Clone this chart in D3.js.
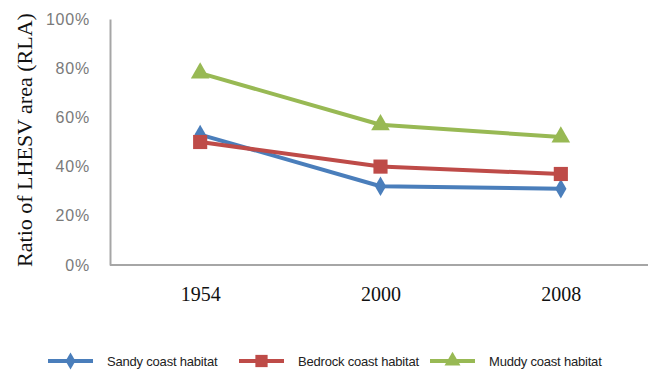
<!DOCTYPE html>
<html>
<head>
<meta charset="utf-8">
<script src="https://cdn.jsdelivr.net/npm/d3@7"></script>
<style>
  html, body { margin: 0; padding: 0; background: #fff; }
  svg { display: block; }
</style>
</head>
<body>
<svg id="chart" width="648" height="371"></svg>
<script>
// Years on the category axis
const years = ["1954", "2000", "2008"];
// Ratio of LHESV area per habitat type
const sandy = [0.53, 0.32, 0.31];
const bedrock = [0.50, 0.40, 0.37];
const muddy = [0.78, 0.57, 0.52];
const seriesNames = ["Sandy coast habitat", "Bedrock coast habitat", "Muddy coast habitat"];
const yTicks = [0, 0.2, 0.4, 0.6, 0.8, 1.0];

const series = [
  { name: seriesNames[0], values: sandy, color: "#4a7ebb", symbol: d3.symbolDiamond, size: 110, legendSize: 85 },
  { name: seriesNames[1], values: bedrock, color: "#be4b48", symbol: d3.symbolSquare, size: 200, legendSize: 150 },
  { name: seriesNames[2], values: muddy, color: "#98b954", symbol: d3.symbolTriangle, size: 150, legendSize: 110 }
];

const svg = d3.select("#chart");
const plotLeft = 110, plotRight = 651, plotTop = 19, plotBottom = 265;

const x = d3.scalePoint().domain(years).range([plotLeft, plotRight]).padding(0.5);
const y = d3.scaleLinear().domain([0, 1]).range([plotBottom, plotTop]);

// Axes: value axis on the left, category axis along the bottom
const yAxis = svg.append("g")
  .attr("transform", `translate(${plotLeft},0)`)
  .call(d3.axisLeft(y).tickValues(yTicks).tickFormat(d3.format(".0%")).tickSize(0).tickPadding(20));
yAxis.select(".domain").attr("stroke", "#a6a6a6").attr("stroke-width", 2);
yAxis.selectAll("text")
  .attr("font-family", "Liberation Sans, Arial, sans-serif")
  .attr("font-size", 16)
  .attr("letter-spacing", 0.8)
  .attr("fill", "#7a7a7a");

const xAxis = svg.append("g")
  .attr("transform", `translate(0,${plotBottom})`)
  .call(d3.axisBottom(x).tickSize(0).tickPadding(22));
xAxis.select(".domain").attr("d", `M${plotLeft},0H648`).attr("stroke", "#a6a6a6").attr("stroke-width", 2);
xAxis.selectAll("text")
  .attr("font-family", "Liberation Serif, Times New Roman, serif")
  .attr("font-size", 20)
  .attr("fill", "#111");

// Y axis title
svg.append("text")
  .attr("transform", `translate(32,140) rotate(-90)`)
  .attr("text-anchor", "middle")
  .attr("font-family", "Liberation Serif, Times New Roman, serif")
  .attr("font-size", 22)
  .attr("fill", "#111")
  .text("Ratio of LHESV area (RLA)");

// Lines and markers
const line = d3.line().x((d, i) => x(years[i])).y(d => y(d));
series.forEach(s => {
  const g = svg.append("g");
  g.append("path")
    .attr("d", line(s.values))
    .attr("fill", "none")
    .attr("stroke", s.color)
    .attr("stroke-width", 4)
    .attr("stroke-linejoin", "round");
  g.selectAll("path.mark")
    .data(s.values)
    .join("path")
    .attr("class", "mark")
    .attr("transform", (d, i) => `translate(${x(years[i])},${y(d)})`)
    .attr("d", d3.symbol().type(s.symbol).size(s.size))
    .attr("fill", s.color);
});

// Legend
const legendX = [48, 239, 430];
const legendY = 361;
series.forEach((s, i) => {
  const g = svg.append("g").attr("transform", `translate(${legendX[i]},${legendY})`);
  g.append("line")
    .attr("x1", 0).attr("x2", 45)
    .attr("stroke", s.color).attr("stroke-width", 4);
  g.append("path")
    .attr("transform", "translate(22.5,0)")
    .attr("d", d3.symbol().type(s.symbol).size(s.legendSize))
    .attr("fill", s.color);
  g.append("text")
    .attr("x", 59)
    .attr("dy", "0.35em")
    .attr("font-family", "Liberation Sans, Arial, sans-serif")
    .attr("font-size", 13)
    .attr("letter-spacing", -0.2)
    .attr("fill", "#222")
    .text(s.name);
});
</script>
</body>
</html>
